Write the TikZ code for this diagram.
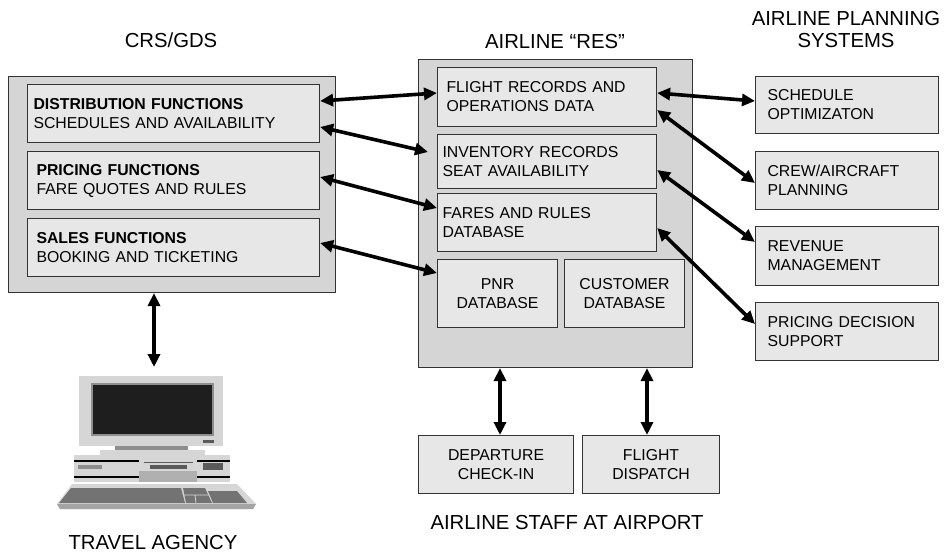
\documentclass[tikz,border=0pt]{standalone}
\usepackage{fontspec}
\setmainfont{Liberation Sans}
\usetikzlibrary{arrows.meta,calc}
\definecolor{boxline}{HTML}{333333}
\definecolor{panelgray}{HTML}{D5D5D5}
\definecolor{cardgray}{HTML}{E7E7E7}
\definecolor{pclight}{HTML}{D6D6D6}
\definecolor{pcmid}{HTML}{8E8E8E}
\definecolor{pcdark}{HTML}{5A5A5A}
\definecolor{pcscreen}{HTML}{1E1E1E}
\newcommand{\boxfont}{\fontsize{15.8pt}{19pt}\selectfont}
\newcommand{\titlefont}{\fontsize{20.3pt}{22pt}\selectfont}
\begin{document}
\begin{tikzpicture}[x=1pt,y=-1pt,
  panel/.style={draw=boxline, fill=panelgray, line width=1.1pt, anchor=north west, inner sep=0pt},
  card/.style={draw=boxline, fill=cardgray, line width=1.1pt, anchor=north west,
               inner ysep=0pt, font=\boxfont},
  leftcard/.style={card, align=left},
  midcard/.style={card, align=center},
  heading/.style={font=\titlefont, anchor=base, align=center, inner sep=0pt},
  link/.style={line width=3.6pt, {Triangle[length=13pt,width=12pt]}-{Triangle[length=13pt,width=12pt]}}
]
\useasboundingbox (0,0) rectangle (948,554);

% headings
\node[heading] (hcrs) at (171,47) {CRS/GDS};
\node[heading] (hres) at (555,48) {AIRLINE “RES”};
\node[heading] (hplan1) at (846,25) {AIRLINE PLANNING};
\node[heading] (hplan2) at (846,47) {SYSTEMS};
\node[heading] (hstaff) at (567,529) {AIRLINE STAFF AT AIRPORT};
\node[heading] (hagency) at (153,549) {TRAVEL AGENCY};

% CRS/GDS panel
\node[panel, minimum width=327pt, minimum height=216pt] (crs) at (8,76) {};
\node[leftcard, minimum width=292pt, minimum height=58pt, inner xsep=6pt, text width=280pt] (dist) at (27,84)
  {\textbf{DISTRIBUTION FUNCTIONS}\\SCHEDULES AND AVAILABILITY};
\node[leftcard, minimum width=292pt, minimum height=58pt, inner xsep=9pt, text width=274pt] (pric) at (27,151)
  {\textbf{PRICING FUNCTIONS}\\FARE QUOTES AND RULES};
\node[leftcard, minimum width=292pt, minimum height=58pt, inner xsep=9pt, text width=274pt] (sales) at (27,218)
  {\textbf{SALES FUNCTIONS}\\BOOKING AND TICKETING};

% airline reservation panel
\node[panel, minimum width=274pt, minimum height=308pt] (res) at (418,59) {};
\node[leftcard, minimum width=219pt, minimum height=59pt, inner xsep=9pt, text width=201pt] (flight) at (437,67)
  {FLIGHT RECORDS AND\\OPERATIONS DATA};
\node[leftcard, minimum width=219pt, minimum height=54pt, inner xsep=5pt, text width=209pt] (inv) at (437,134)
  {INVENTORY RECORDS\\SEAT AVAILABILITY};
\node[leftcard, minimum width=219pt, minimum height=58pt, inner xsep=5pt, text width=209pt] (fares) at (437,193)
  {FARES AND RULES\\DATABASE};
\node[midcard, minimum width=120pt, minimum height=68pt, inner xsep=2pt, text width=116pt] (pnr) at (437,259)
  {PNR\\DATABASE};
\node[midcard, minimum width=120pt, minimum height=68pt, inner xsep=2pt, text width=116pt] (cust) at (564,259)
  {CUSTOMER\\DATABASE};

% planning systems
\node[leftcard, minimum width=183pt, minimum height=57pt, inner xsep=12pt, text width=159pt] (sched) at (755,76)
  {SCHEDULE\\OPTIMIZATON};
\node[leftcard, minimum width=183pt, minimum height=58pt, inner xsep=12pt, text width=159pt] (crew) at (755,151)
  {CREW/AIRCRAFT\\PLANNING};
\node[leftcard, minimum width=183pt, minimum height=59pt, inner xsep=12pt, text width=159pt] (rev) at (755,226)
  {REVENUE\\MANAGEMENT};
\node[leftcard, minimum width=183pt, minimum height=58pt, inner xsep=12pt, text width=159pt] (pds) at (755,302)
  {PRICING DECISION\\SUPPORT};

% airport staff
\node[midcard, minimum width=155pt, minimum height=58pt, inner xsep=2pt, text width=151pt] (dep) at (418,435)
  {DEPARTURE\\CHECK-IN};
\node[midcard, minimum width=137pt, minimum height=58pt, inner xsep=2pt, text width=133pt] (disp) at (582,435)
  {FLIGHT\\DISPATCH};

% travel agency terminal
% monitor
\fill[pclight] (79,376) rectangle (223,446);
\fill[pcmid] (91,383) rectangle (214,436);
\fill[pcscreen] (93,385) rectangle (212,434);
\fill[pcdark] (203,440) rectangle (214,443);
% stand and base plate
\fill[pcmid] (115,446) rectangle (188,450);
\fill[pclight] (100,450) rectangle (205,455);
% system unit
\fill[pclight] (74,455) rectangle (230,482);
\draw[line width=1.2pt, black] (74,461) -- (139,461) (197,461) -- (230,461)
                               (74,477) -- (139,477) (197,477) -- (230,477);
\fill[pcmid!70] (139,471) rectangle (197,482);
\draw[line width=0.8pt, pcdark] (144,462) -- (193,462);
\fill[pcdark] (150,465) rectangle (187,469);
\fill[pcmid] (78,465) rectangle (102,469);
\fill[pcdark] (203,463) rectangle (223,470);
% keyboard
\fill[pclight] (72,484) -- (237,484) -- (256,504) -- (253,509) -- (60,509) -- (57,504) -- cycle;
\fill[pcmid!80] (57,504) -- (256,504) -- (253,509) -- (60,509) -- cycle;
\fill[pcdark!85] (71,488) -- (181,488) -- (185,503) -- (59,503) -- cycle;
\fill[pcdark!85] (183,488) -- (205,488) -- (212,503) -- (186,503) -- cycle;
\draw[line width=0.8pt, pclight] (184,495) -- (209,495) (195,495) -- (196,503);
\fill[pcdark!85] (208,491) -- (237,491) -- (247,503) -- (213,503) -- cycle;
\coordinate (pc) at (154,367);

% connectors
\draw[link] (dist.east |- 0,101) -- (flight.west |- 0,93);
\draw[link] (dist.east |- 0,127) -- ($(inv.west |- 0,152)+(-9,0)$);
\draw[link] (pric.east |- 0,177) -- (fares.west |- 0,208);
\draw[link] (sales.east |- 0,243) -- (pnr.west |- 0,273);
\draw[link] (flight.east |- 0,93) -- (sched.west |- 0,101);
\draw[link] (flight.east |- 0,110) -- (crew.west |- 0,183);
\draw[link] (inv.east |- 0,170) -- (rev.west |- 0,242);
\draw[link] (fares.east |- 0,228) -- (pds.west |- 0,324);
\draw[link] (res.south -| 500,0) -- (dep.north -| 500,0);
\draw[link] (res.south -| 647,0) -- (disp.north -| 647,0);
\draw[link] (crs.south -| pc) -- (pc);
\end{tikzpicture}
\end{document}
